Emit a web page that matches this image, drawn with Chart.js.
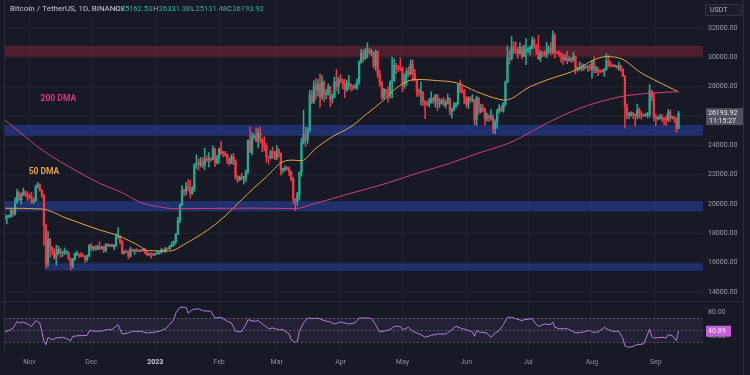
<!DOCTYPE html>
<html><head><meta charset="utf-8">
<script src="https://cdn.jsdelivr.net/npm/chart.js@4.4.0/dist/chart.umd.min.js"></script>
<style>html,body{margin:0;padding:0;background:#171a24;}canvas{display:block;}</style>
</head><body>
<canvas id="c" width="750" height="375"></canvas>
<script>
// Daily candles, index 0 = 20 Oct 2022 ... index 327 = 12 Sep 2023
const opens = [
19120,19040,19160,19210,19570,19330,20080,20770,20290,20600,
20810,20630,20490,20480,20150,20210,21150,21300,20920,20590,
18540,15880,17590,17070,16810,16330,16620,16900,16660,16690,
16700,16700,16280,15780,16230,16600,16600,16520,16460,16430,
16210,16440,17170,16980,17090,16890,17110,16970,17090,16840,
17230,17130,17130,17090,17210,17780,17810,17360,16630,16780,
16740,16440,16900,16820,16830,16780,16840,16830,16920,16700,
16540,16630,16600,16540,16610,16670,16670,16850,16830,16950,
16940,17120,17180,17440,17940,18850,19930,20950,20870,21190,
21130,20680,21070,22670,22780,22710,22920,22620,23060,23010,
23080,23030,23740,22830,23130,23730,23490,23430,23330,22940,
22760,23250,22960,21800,21630,21860,21780,21780,22200,24330,
23520,24570,24630,24280,24840,24440,24190,23950,23200,23160,
23560,23490,23140,23630,23470,22350,22350,22430,22410,22200,
21700,20360,20190,20630,22160,24200,24750,24380,25050,27420,
26970,28040,27770,28170,27300,28320,27490,27490,28000,27140,
27270,28350,28030,28480,28450,28200,27790,28170,28180,28040,
27920,27950,28330,29650,30230,29890,30390,30490,30320,30320,
29430,30390,28820,28250,27270,27820,27590,27520,28300,28420,
29470,29340,29250,29230,28070,28680,29030,28850,29530,28900,
28430,27660,27630,27630,26990,26800,26780,26930,27170,27030,
27400,26830,26890,27100,26750,26850,27220,26330,26470,26720,
26870,28090,27750,27700,27220,26820,27250,27070,27120,25740,
27240,26340,26500,26480,25850,25940,25900,25920,25130,25590,
26340,26510,26340,26850,28310,30010,29890,30700,30550,30470,
30270,30690,30080,30450,30470,30590,30620,31160,30770,30510,
29900,30350,30290,30170,30410,30620,30390,31470,30320,30290,
30230,30140,29860,29910,29800,29910,29790,30080,29180,29230,
29350,29220,29310,29350,29280,29230,29700,29170,29180,29090,
29050,29040,29180,29770,29580,29430,29400,29420,29280,29410,
29170,28700,26620,26050,26100,26190,26120,25990,26430,26160,
26050,26010,26090,26110,27720,27300,25930,25800,25870,25970,
25810,25780,25750,26240,25900,25900,25840,25162.53];
const highs = [
19350,19250,19250,19700,19600,20420,21020,20870,20750,21080,
20930,20840,20700,20800,20390,21300,21480,21370,21000,20670,
18590,18140,17660,17070,16950,17190,17130,16990,16750,17010,
16820,16750,16290,16300,16670,16810,16610,16700,16600,16480,
16530,17250,17320,17110,17160,17200,17430,17110,17130,17300,
17300,17230,17270,17240,17970,18390,17850,17530,16800,16860,
16820,17060,16920,16870,16960,16860,16860,16940,16970,16780,
16660,16640,16640,16630,16790,16760,16990,16880,17040,16980,
17180,17400,17490,17990,19110,19990,21260,21000,21470,21650,
21650,21190,22750,23370,23080,23170,23180,23820,23290,23500,
23170,23960,23820,23310,23810,24260,23590,23590,23440,23160,
23370,23450,22990,21940,21900,22090,21880,22320,24380,25250,
24880,24770,25190,25120,25250,24470,24600,24130,23220,23690,
23880,23600,24000,23780,23480,22420,22610,22550,22530,22270,
21820,20370,20790,22190,24500,26390,25230,25200,27760,27730,
28390,28530,28500,28870,28750,28390,27800,28200,28030,27500,
28650,29170,28660,28820,28530,28490,28450,28780,28190,28110,
28170,28530,29770,30550,30490,30620,31000,30620,30550,30320,
30490,30410,29090,28370,27880,27820,28000,28400,30020,29890,
29600,29450,29960,29330,28880,29270,29380,29840,29820,29180,
28460,27830,28330,27650,27060,27030,27200,27660,27270,27480,
27480,27190,27160,27270,27050,27500,27220,26540,26930,26890,
28200,28450,28050,27830,27350,27300,27340,27460,27130,27350,
27260,26800,26780,26530,26200,26090,26430,26080,25750,26480,
26790,26690,26900,28400,30800,30500,31430,31060,31050,30660,
31000,30710,30830,31280,30660,30800,31380,31320,30880,31500,
30450,30380,30440,31030,30800,30990,31810,31640,30390,30450,
30340,30240,30190,30420,30060,30000,30350,30100,29350,29690,
29580,29530,29410,29450,29530,29740,30050,29410,29310,29110,
29170,29240,30240,30130,29740,29540,29480,29450,29690,29470,
29240,28780,26830,26260,26290,26260,26140,26810,26560,26310,
26100,26180,26250,28140,27760,27580,26130,25980,26130,26100,
25900,26050,26440,26420,25950,26010,25880,26331.38];
const lows = [
18900,18650,19070,19070,19160,19240,20060,20230,20000,20560,
20520,20220,20350,20050,20030,20180,21080,20880,20390,17170,
15590,15750,16360,16530,16230,15820,16530,16360,16420,16550,
16570,16180,15480,15630,16170,16460,16330,16400,16400,16000,
16100,16430,16850,16790,16860,16880,16880,16910,16680,16730,
17110,17090,17070,16870,17090,17660,17280,16580,16590,16670,
16260,16400,16740,16560,16750,16760,16730,16780,16590,16460,
16490,16330,16470,16500,16550,16570,16650,16750,16680,16910,
16910,17100,17140,17310,17910,18720,19890,20560,20600,20870,
20400,20660,20860,22420,22290,22520,22470,22330,22850,22530,
22890,23010,22540,22720,22760,23360,23210,23250,22750,22630,
22750,22680,21690,21450,21600,21640,21350,21530,22050,23510,
23340,24430,24230,23840,24150,23570,23610,22860,22720,23060,
23110,23020,23020,23200,21970,22100,22260,22300,21930,21580,
20040,19550,19900,20260,21890,24080,23930,24130,24890,26850,
26840,27150,27360,26600,27130,27000,27160,27420,26630,26870,
27240,27720,27530,28260,27850,27260,27680,27810,27710,27770,
27880,27800,28170,29610,29680,29870,29970,30230,30120,29270,
29100,28600,28010,27130,27170,27330,26940,27210,27240,28380,
28880,29040,29080,27660,27870,28110,28670,28810,28380,28400,
27330,27330,26750,26700,25810,26700,26600,26870,26850,26600,
26390,26580,26810,26690,26530,26820,26080,25870,26340,26560,
26760,27560,27560,26840,26610,26510,26920,26950,25390,25350,
26120,26210,26290,25400,25640,25610,25710,24820,24800,25170,
26180,26300,26250,26670,28270,29530,29810,30250,30270,29930,
30230,29900,30050,29500,30320,30170,30580,30630,30200,29850,
29700,30050,30070,29950,30270,30200,30250,29950,30260,30070,
29660,29500,29760,29560,29730,29640,29730,28860,29050,29100,
29070,29100,29260,29030,29100,28580,28940,28960,28750,28960,
28980,28700,29120,29360,29320,29350,29360,29260,29100,29060,
28700,25170,25800,25800,25970,25810,25300,25800,25860,25780,
25960,25990,25880,25920,27030,25660,25330,25720,25790,25600,
25400,25360,25610,25640,25800,25570,24900,25131.48];
const closes = [
19040,19160,19210,19570,19330,20080,20770,20290,20600,20810,
20630,20490,20480,20150,20210,21150,21300,20920,20590,18540,
15880,17590,17070,16810,16330,16620,16900,16660,16690,16700,
16700,16280,15780,16230,16600,16600,16520,16460,16430,16210,
16440,17170,16980,17090,16890,17110,16970,17090,16840,17230,
17130,17130,17090,17210,17780,17810,17360,16630,16780,16740,
16440,16900,16820,16830,16780,16840,16830,16920,16700,16540,
16630,16600,16540,16610,16670,16670,16850,16830,16950,16940,
17120,17180,17440,17940,18850,19930,20950,20870,21190,21130,
20680,21070,22670,22780,22710,22920,22620,23060,23010,23080,
23030,23740,22830,23130,23730,23490,23430,23330,22940,22760,
23250,22960,21800,21630,21860,21780,21780,22200,24330,23520,
24570,24630,24280,24840,24440,24190,23950,23200,23160,23560,
23490,23140,23630,23470,22350,22350,22430,22410,22200,21700,
20360,20190,20630,22160,24200,24750,24380,25050,27420,26970,
28040,27770,28170,27300,28320,27490,27490,28000,27140,27270,
28350,28030,28480,28450,28200,27790,28170,28180,28040,27920,
27950,28330,29650,30230,29890,30390,30490,30320,30320,29430,
30390,28820,28250,27270,27820,27590,27520,28300,28420,29470,
29340,29250,29230,28070,28680,29030,28850,29530,28900,28430,
27660,27630,27630,26990,26800,26780,26930,27170,27030,27400,
26830,26890,27100,26750,26850,27220,26330,26470,26720,26870,
28090,27750,27700,27220,26820,27250,27070,27120,25740,27240,
26340,26500,26480,25850,25940,25900,25920,25130,25590,26340,
26510,26340,26850,28310,30010,29890,30700,30550,30470,30270,
30690,30080,30450,30470,30590,30620,31160,30770,30510,29900,
30350,30290,30170,30410,30620,30390,31470,30320,30290,30230,
30140,29860,29910,29800,29910,29790,30080,29180,29230,29350,
29220,29310,29350,29280,29230,29700,29170,29180,29090,29050,
29040,29180,29770,29580,29430,29400,29420,29280,29410,29170,
28700,26620,26050,26100,26190,26120,25990,26430,26160,26050,
26010,26090,26110,27720,27300,25930,25800,25870,25970,25810,
25780,25750,26240,25900,25900,25840,25160,26193.92];

// Moving averages (day index, price)
const ma50Idx = [0,18,30,46,54,66,69,80,88,103,119,127,135,140,144,151,159,168,176,184,190,195,200,210,219,229,240,243,255,263,279,284,292,300,308,317,327];
const ma50Val = [19710,19660,19030,18230,17890,17090,16820,16800,17320,18700,20840,21860,22880,22990,22950,23800,24590,25270,26180,27090,27890,28340,28500,28410,28270,27660,27140,27090,28000,28450,29250,29700,30050,29860,29020,28340,27650];
const ma200Idx = [0,7,17,27,37,46,56,66,75,83,119,141,151,168,184,200,216,232,240,248,263,279,299,313,327];
const ma200Val = [25730,24930,23800,22880,22090,21410,20840,20100,19800,19680,19720,19690,20050,20730,21360,22090,22770,23570,23910,24360,25500,26520,27320,27550,27660];

// RSI (day index, value)
const rsiIdx = [0,2,4,6,7,9,11,13,15,17,18,19,20,21,23,25,28,30,32,33,36,40,41,45,48,49,52,55,56,57,60,62,66,69,72,75,78,80,82,83,85,88,89,91,94,96,100,102,105,108,110,112,113,115,117,118,121,123,125,128,130,133,135,138,139,141,142,143,145,147,150,152,155,158,160,163,165,167,170,172,176,178,180,182,185,187,189,192,193,196,198,202,204,207,210,214,216,219,222,224,227,228,229,231,234,236,238,240,242,244,246,248,251,252,256,257,259,262,265,266,267,269,273,275,277,280,284,285,288,291,293,295,298,300,301,303,305,307,310,311,313,314,315,319,321,322,324,326,327];
const rsiVal = [46.7,49.4,53,64.4,61.7,63.3,60,56,65.5,61.7,47.8,31,25.6,37.8,33.9,36.7,37.8,35.6,32.2,39.4,40.5,41,48.9,47.8,48.9,50.6,50.6,59,50.6,43.3,45,47.8,47.8,45,46,47.8,52.2,59,67.2,78.3,87.8,87.8,78.3,83.9,85.5,82.2,81.1,70,71.1,64.4,61.7,47.8,46.7,47.8,59,67.2,64.4,65.5,60,52.2,53.3,50.6,50.6,43.3,33.9,29.4,31,47.8,61.7,70,68.9,70,65.5,63.3,60,63.3,61.7,60,61.7,70,70,68.9,59,46.7,48.9,50.6,56.1,56.1,50.6,54.4,47.8,42.2,37.8,41.1,43.3,43.3,47.8,56.1,52.2,50.6,46.7,39.4,48.9,46.1,45,37.8,45,48.9,59,71.1,71.1,68.9,65.5,67.2,68.9,63.3,56.1,60,59,63.3,54.4,52.2,52.2,48.9,45,46.1,49.4,46.1,46.7,54.4,50.6,47.8,47.8,36.7,23.3,21.1,22.8,25.6,26.7,33.9,51.7,39.4,36.7,37.8,36.7,42.2,40.5,32.2,48];
const rsiLabel = '40.89';

// Axis ticks
const priceTicks = [14000,16000,18000,20000,22000,24000,26000,28000,30000,32000];
const rsiTicks = [80,40];
const rsiLevels = [70,50,30];
const monthTickIdx = [12,42,73,104,132,163,193,224,254,285,316];
const monthLabels = ['Nov','Dec','2023','Feb','Mar','Apr','May','Jun','Jul','Aug','Sep'];

// Support / resistance zones (price range, first day index)
const zoneLow  = [30050,24650,19500,15450];
const zoneHigh = [30780,25400,20200,15950];
const zoneFrom = [null,null,null,19.5];
const zoneKind = ['res','sup','sup','sup'];

const symbolTitle = 'Bitcoin / TetherUS, 1D, BINANCE';
const ohlcKeys = ['O','H','L','C'];
const countdown = '11:15:27';
const quote = 'USDT';

const UP = '#22ab94', DOWN = '#f23645';
const FONT = 'Roboto, "DejaVu Sans", sans-serif';
const last = closes.length - 1;
const colorAt = i => closes[i] >= opens[i] ? UP : DOWN;

const bodyData = opens.map((o, i) => ({x: i, y: [o, closes[i]]}));
const wickData = opens.map((o, i) => ({x: i, y: [lows[i], highs[i]]}));
const ma50Data = ma50Idx.map((d, i) => ({x: d, y: ma50Val[i]}));
const ma200Data = ma200Idx.map((d, i) => ({x: d, y: ma200Val[i]}));
const rsiData = rsiIdx.map((d, i) => ({x: d, y: rsiVal[i]}));

const deco = {
  id: 'deco',
  beforeDraw(chart) {
    const c = chart.ctx;
    c.save(); c.fillStyle = '#171a24'; c.fillRect(0, 0, chart.width, chart.height); c.restore();
  },
  beforeDatasetsDraw(chart) {
    const c = chart.ctx, a = chart.chartArea, x = chart.scales.x, y = chart.scales.y, r = chart.scales.yRsi;
    c.save();
    zoneLow.forEach((lo, i) => {
      const x0 = zoneFrom[i] == null ? a.left : x.getPixelForValue(zoneFrom[i]);
      const yt = y.getPixelForValue(zoneHigh[i]), yb = y.getPixelForValue(lo);
      c.fillStyle = zoneKind[i] === 'res' ? 'rgba(140,42,62,0.48)' : 'rgba(38,66,165,0.56)';
      c.fillRect(x0, yt, a.right - x0, yb - yt);
    });
    const r70 = r.getPixelForValue(70), r30 = r.getPixelForValue(30);
    c.fillStyle = 'rgba(126,87,194,0.11)';
    c.fillRect(a.left, r70, a.right - a.left, r30 - r70);
    c.strokeStyle = 'rgba(120,123,134,0.6)'; c.lineWidth = 1; c.setLineDash([2, 2]);
    rsiLevels.forEach(v => {
      const yy = Math.round(r.getPixelForValue(v)) + 0.5;
      c.beginPath(); c.moveTo(a.left, yy); c.lineTo(a.right, yy); c.stroke();
    });
    c.setLineDash([]);
    c.strokeStyle = '#2a2e39';
    c.beginPath(); c.moveTo(0, 301.5); c.lineTo(743, 301.5); c.stroke();
    c.restore();
  },
  afterDraw(chart) {
    const c = chart.ctx, a = chart.chartArea, x = chart.scales.x, y = chart.scales.y, r = chart.scales.yRsi;
    c.save();
    // MA labels
    c.font = 'bold 8.5px ' + FONT; c.textAlign = 'center'; c.textBaseline = 'middle';
    c.fillStyle = '#d9367a'; c.fillText('200 DMA', x.getPixelForValue(26), y.getPixelForValue(27160));
    c.fillStyle = '#e9a23f'; c.fillText('50 DMA', x.getPixelForValue(19), y.getPixelForValue(22180));
    // header
    c.textAlign = 'left'; c.font = '8px ' + FONT;
    c.fillStyle = '#c3c6ce';
    const chars = Array.from(symbolTitle);
    const sumW = chars.reduce((s, ch) => s + c.measureText(ch).width, 0);
    const extra = Math.max(0, (100 - sumW) / (chars.length - 1));
    let cx = 10;
    chars.forEach(ch => { c.fillText(ch, cx, 9); cx += c.measureText(ch).width + extra; });
    c.font = '7.5px ' + FONT;
    const keyX = [115, 153, 191, 227];
    const vals = [opens[last], highs[last], lows[last], closes[last]];
    ohlcKeys.forEach((k, i) => {
      c.fillStyle = '#a3a6af'; c.fillText(k, keyX[i], 9);
      c.fillStyle = '#2fb39b'; c.fillText(vals[i].toFixed(2), keyX[i] + c.measureText(k).width + 0.5, 9);
    });
    // quote box
    c.font = '7px ' + FONT;
    c.fillStyle = '#1c1f2a'; c.fillRect(705, 4, 37, 12);
    c.strokeStyle = '#2f3340'; c.strokeRect(705.5, 4.5, 36, 11);
    c.fillStyle = '#b2b5be'; c.fillText(quote, 710, 10.5);
    // last price box
    const py = y.getPixelForValue(closes[last]);
    c.fillStyle = '#4e525d'; c.fillRect(706, py - 5, 37, 17);
    c.fillStyle = '#e8e9ec';
    c.fillText(closes[last].toFixed(2), 708, py);
    c.fillText(countdown, 709, py + 8);
    // RSI ticks and value box
    c.fillStyle = '#9b9ea7';
    rsiTicks.forEach(v => c.fillText(v.toFixed(2), 708, r.getPixelForValue(v)));
    const ry = r.getPixelForValue(rsiVal[rsiVal.length - 1]);
    c.fillStyle = '#c15fd6'; c.fillRect(706, ry - 5.5, 25, 11);
    c.fillStyle = '#f3e6f7'; c.fillText(rsiLabel, 708, ry + 0.5);
    // frame lines
    c.strokeStyle = '#2a2e39'; c.lineWidth = 1;
    c.beginPath(); c.moveTo(743.5, 0); c.lineTo(743.5, 375); c.stroke();
    c.beginPath(); c.moveTo(4.5, 0); c.lineTo(4.5, 352); c.stroke();
    c.restore();
  }
};

new Chart(document.getElementById('c'), {
  type: 'bar',
  data: {
    datasets: [
      {type: 'bar', data: wickData, xAxisID: 'x', yAxisID: 'y', grouped: false, order: 4,
       barThickness: 0.9, minBarLength: 1, borderWidth: 0,
       backgroundColor: ctx => colorAt(ctx.dataIndex)},
      {type: 'bar', data: bodyData, xAxisID: 'x', yAxisID: 'y', grouped: false, order: 3,
       barThickness: 1.6, minBarLength: 1, borderWidth: 0,
       backgroundColor: ctx => colorAt(ctx.dataIndex)},
      {type: 'line', data: ma200Data, xAxisID: 'x', yAxisID: 'y', order: 1,
       borderColor: '#cf3f72', borderWidth: 1, pointRadius: 0, cubicInterpolationMode: 'monotone'},
      {type: 'line', data: ma50Data, xAxisID: 'x', yAxisID: 'y', order: 1,
       borderColor: '#e3a445', borderWidth: 1, pointRadius: 0, cubicInterpolationMode: 'monotone'},
      {type: 'line', data: rsiData, xAxisID: 'x', yAxisID: 'yRsi', order: 1,
       borderColor: '#b27bd8', borderWidth: 1, pointRadius: 0, tension: 0}
    ]
  },
  options: {
    responsive: false, animation: false, devicePixelRatio: 1,
    layout: {padding: {left: 5, top: 0, right: 0, bottom: 0}},
    plugins: {legend: {display: false}, tooltip: {enabled: false}},
    scales: {
      x: {
        type: 'linear', axis: 'x', position: 'bottom', min: 0.1, max: 338.9, offset: false,
        grid: {offset: false, color: 'rgba(255,255,255,0.035)', drawTicks: false},
        border: {display: false},
        afterBuildTicks: s => { s.ticks = monthTickIdx.map(v => ({value: v})); },
        ticks: {
          padding: 6, autoSkip: false, maxRotation: 0,
          callback: v => monthLabels[monthTickIdx.indexOf(v)],
          font: ctx => ({family: FONT, size: 7, weight: monthLabels[ctx.index] === '2023' ? 'bold' : 'normal'}),
          color: ctx => monthLabels[ctx.index] === '2023' ? '#c9ccd4' : '#8e919a'
        },
        afterFit: s => { s.height = 23; s.paddingLeft = 0; s.paddingRight = 0; }
      },
      y: {
        type: 'linear', axis: 'y', position: 'right', min: 9909, max: 33909,
        grid: {color: 'rgba(255,255,255,0.035)', drawTicks: false},
        border: {display: false},
        afterBuildTicks: s => { s.ticks = priceTicks.map(v => ({value: v})); },
        ticks: {padding: 5, autoSkip: false, callback: v => v.toFixed(2),
                font: {family: FONT, size: 7}, color: '#9b9ea7'},
        afterFit: s => { s.width = 47; s.paddingTop = 0; s.paddingBottom = 0; }
      },
      yRsi: {type: 'linear', axis: 'y', position: 'right', display: false, min: 13.33, max: 600}
    }
  },
  plugins: [deco]
});
</script>
</body></html>
